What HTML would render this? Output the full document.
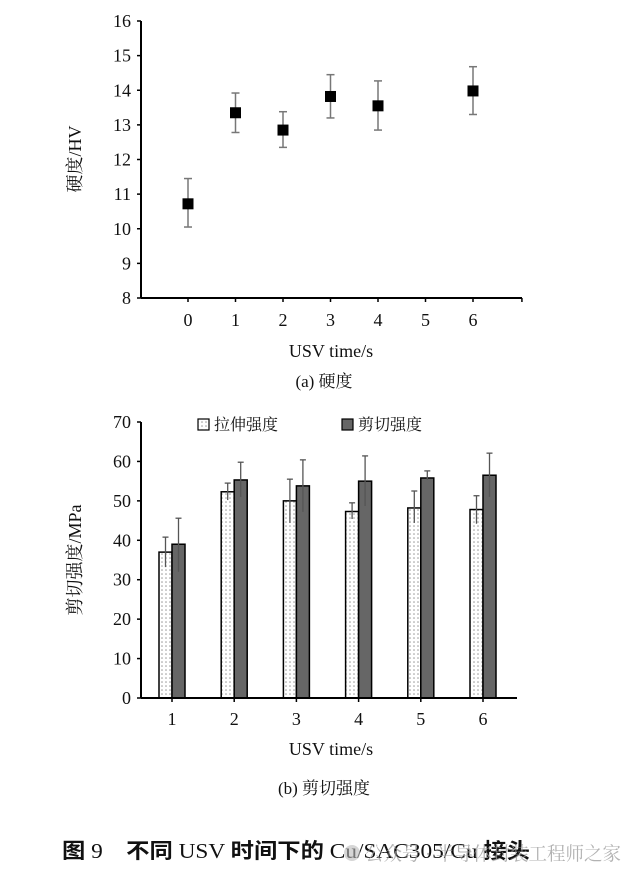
<!DOCTYPE html>
<html><head><meta charset="utf-8">
<style>
html,body{margin:0;padding:0;background:#fff;}
svg{display:block;}
text{font-family:"Liberation Serif","Noto Serif CJK SC",serif;fill:#111;}
</style></head>
<body>
<svg id="s" width="640" height="879" viewBox="0 0 640 879" xmlns="http://www.w3.org/2000/svg">
<defs>
<pattern id="dots" width="4" height="4" patternUnits="userSpaceOnUse">
<rect width="4" height="4" fill="#fff"/><circle cx="2" cy="2" r="0.8" fill="#999"/>
</pattern>
</defs>
<g id="top"></g>
<g id="bot"></g>
<text x="324" y="387" text-anchor="middle" font-size="17">(a)  硬度</text>
<text x="324" y="794" text-anchor="middle" font-size="17">(b)  剪切强度</text>
<text x="62" y="858" font-size="21" textLength="468" lengthAdjust="spacingAndGlyphs"><tspan font-weight="bold" font-family="'Liberation Sans','Noto Sans CJK SC',sans-serif">图</tspan> 9　<tspan font-weight="bold" font-family="'Liberation Sans','Noto Sans CJK SC',sans-serif">不同</tspan> USV <tspan font-weight="bold" font-family="'Liberation Sans','Noto Sans CJK SC',sans-serif">时间下的</tspan> Cu/SAC305/Cu <tspan font-weight="bold" font-family="'Liberation Sans','Noto Sans CJK SC',sans-serif">接头</tspan></text>
<circle cx="352" cy="853" r="8" fill="#bbb" opacity="0.6"/>
<text x="365" y="860" font-size="19" textLength="256" lengthAdjust="spacingAndGlyphs" style="fill:#999;opacity:0.75" font-family="'Liberation Sans','Noto Sans CJK SC',sans-serif">公众号 · 半导体封装工程师之家</text>
</svg>
<script>
// Hardness chart data
const hCats = [0,1,2,3,4,6];
const hVals = [10.72,13.35,12.85,13.82,13.55,13.98];
const hLo = [10.05,12.78,12.35,13.2,12.85,13.3];
const hHi = [11.45,13.92,13.38,14.45,14.27,14.68];
const hYTicks = [8,9,10,11,12,13,14,15,16];
const hXTicks = [0,1,2,3,4,5,6];
// Strength chart data
const sCats = ['1','2','3','4','5','6'];
const tensile = [37,52.3,50,47.3,48.2,47.8];
const tensileLo = [33.2,50.2,44.4,45.4,44.4,44.2];
const tensileHi = [40.8,54.5,55.5,49.5,52.5,51.3];
const shear = [39,55.3,53.8,55,55.8,56.5];
const shearLo = [32,51,47.2,48.7,55.3,51];
const shearHi = [45.6,59.8,60.4,61.4,57.6,62.1];
const sYTicks = [0,10,20,30,40,50,60,70];

const NS='http://www.w3.org/2000/svg';
function mk(p,tag,attrs){const e=document.createElementNS(NS,tag);for(const k in attrs)e.setAttribute(k,attrs[k]);p.appendChild(e);return e;}

// ---- top chart ----
const T=document.getElementById('top');
const hx=v=>188+(v)*47.5;
const hy=v=>298-(v-8)*(277/8);
let e;
e=mk(T,'line',{x1:141,y1:hy(16),x2:141,y2:298,stroke:'#000','stroke-width':2});


e=mk(T,'line',{x1:141,y1:298,x2:522,y2:298,stroke:'#000','stroke-width':2});


hYTicks.forEach(v=>{
  mk(T,'line',{x1:137,y1:hy(v),x2:141,y2:hy(v),stroke:'#000','stroke-width':1.5});
  e=mk(T,'text',{x:131,y:hy(v)+6,'text-anchor':'end','font-size':18});
  e.textContent=v;
  
  
});
hXTicks.concat([7.03]).forEach(v=>{
  mk(T,'line',{x1:hx(v),y1:298,x2:hx(v),y2:302,stroke:'#000','stroke-width':1.5});
});
hXTicks.forEach(v=>{
  e=mk(T,'text',{x:hx(v),y:326,'text-anchor':'middle','font-size':18});
  e.textContent=v;
  
  
});
e=mk(T,'text',{x:331,y:357,'text-anchor':'middle','font-size':18});
e.textContent='USV time/s';


e=mk(T,'text',{x:0,y:0,'text-anchor':'middle','font-size':18,transform:'translate(81,159) rotate(-90)'});
e.textContent='硬度/HV';


hCats.forEach((c,i)=>{
  const x=hx(c);
  const g=mk(T,'g',{});
  
  
  mk(g,'line',{x1:x,y1:hy(hLo[i]),x2:x,y2:hy(hHi[i]),stroke:'#777','stroke-width':1.5});
  mk(g,'line',{x1:x-4,y1:hy(hLo[i]),x2:x+4,y2:hy(hLo[i]),stroke:'#777','stroke-width':1.5});
  mk(g,'line',{x1:x-4,y1:hy(hHi[i]),x2:x+4,y2:hy(hHi[i]),stroke:'#777','stroke-width':1.5});
  mk(g,'rect',{x:x-5.5,y:hy(hVals[i])-5.5,width:11,height:11,fill:'#000'});
});

// ---- bottom chart ----
const B=document.getElementById('bot');
const sx=i=>172+i*62.2;
const sy=v=>698-v*(276/70);
e=mk(B,'line',{x1:141,y1:sy(70),x2:141,y2:698,stroke:'#000','stroke-width':2});


sYTicks.forEach(v=>{
  mk(B,'line',{x1:137,y1:sy(v),x2:141,y2:sy(v),stroke:'#000','stroke-width':1.5});
  e=mk(B,'text',{x:131,y:sy(v)+6,'text-anchor':'end','font-size':18});
  e.textContent=v;
  
  
});
const bw=13;
sCats.forEach((c,i)=>{
  const x=sx(i);
  const g=mk(B,'g',{});
  
  
  e=mk(g,'rect',{x:x-bw,y:sy(tensile[i]),width:bw,height:698-sy(tensile[i]),fill:'url(#dots)',stroke:'#000','stroke-width':1.5});
  
  
  e=mk(g,'rect',{x:x,y:sy(shear[i]),width:bw,height:698-sy(shear[i]),fill:'#666',stroke:'#000','stroke-width':1.5});
  
  
  [[x-bw/2,tensileLo[i],tensileHi[i]],[x+bw/2,shearLo[i],shearHi[i]]].forEach(([cx,lo,hi])=>{
    mk(g,'line',{x1:cx,y1:sy(lo),x2:cx,y2:sy(hi),stroke:'#555','stroke-width':1.3});
    mk(g,'line',{x1:cx-3,y1:sy(hi),x2:cx+3,y2:sy(hi),stroke:'#555','stroke-width':1.3});
  });
  mk(B,'line',{x1:x,y1:698,x2:x,y2:702,stroke:'#000','stroke-width':1.5});
  e=mk(B,'text',{x:x,y:725,'text-anchor':'middle','font-size':18});
  e.textContent=c;
  
  
});
e=mk(B,'line',{x1:141,y1:698,x2:517,y2:698,stroke:'#000','stroke-width':2});


e=mk(B,'text',{x:331,y:755,'text-anchor':'middle','font-size':18});
e.textContent='USV time/s';


e=mk(B,'text',{x:0,y:0,'text-anchor':'middle','font-size':18,transform:'translate(81,560) rotate(-90)'});
e.textContent='剪切强度/MPa';


// legend
const L=mk(B,'g',{});


mk(L,'rect',{x:198,y:419,width:11,height:11,fill:'url(#dots)',stroke:'#000','stroke-width':1.2});
e=mk(L,'text',{x:214,y:430,'font-size':16});
e.textContent='拉伸强度';


mk(L,'rect',{x:342,y:419,width:11,height:11,fill:'#666',stroke:'#000','stroke-width':1.2});
e=mk(L,'text',{x:358,y:430,'font-size':16});
e.textContent='剪切强度';


</script>
</body></html>
